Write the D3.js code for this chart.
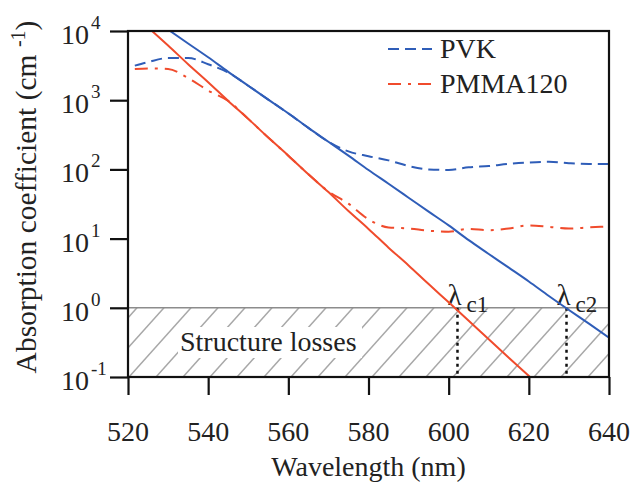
<!DOCTYPE html>
<html>
<head>
<meta charset="utf-8">
<script src="https://cdn.jsdelivr.net/npm/d3@7"></script>
<style>
  body { margin: 0; background: #fff; }
  svg { display: block; font-family: "Liberation Serif", "DejaVu Serif", serif; }
</style>
</head>
<body>
<div id="chart-area"></div>
<script>
// absorption edge (solid) and measured absorption (dashed) of the two polymers
var pvkEdgeNm  = [530.5,535,540,545,550,555,560,565,570,575,580,585,590,595,600,605,610,615,620,625,630,635,640];
var pvkEdgeAbs = [10000,6600,4170,2570,1620,1020,646,398,251,158,98,62,39,24.5,15.5,9.5,6.0,3.8,2.4,1.48,0.93,0.59,0.37];

var pmmaEdgeNm  = [526,530,535,540,545,550,555,560,565,570,575,580,585,590,595,600,605,610,615,620.3];
var pmmaEdgeAbs = [10000,6170,3310,1820,977,537,288,158,85,47,25,13.8,7.4,4.1,2.2,1.2,0.65,0.35,0.19,0.1];

var pvkNm  = [521.7,525,530,535,540,545,550,555,560,565,570,575,580,585,590,595,600,605,610,615,620,625,630,635,640];
var pvkAbs = [3160,3550,4070,4070,3310,2510,1620,1020,646,398,251,182,155,135,112,100,98,107,112,120,126,129,123,120,120];

var pmmaNm  = [521.7,525,530,535,540,545,550,555,560,565,570,575,580,585,590,595,600,605,610,615,620,625,630,635,640];
var pmmaAbs = [2820,2880,2820,2090,1380,977,537,288,158,85,48,32,19,14.5,14,13,12.6,13.8,13.2,14,15.5,14.8,14,14.5,15];

var xTicks = [520,540,560,580,600,620,640];
var yExponents = [4,3,2,1,0,-1];

var cutoffs = [{nm: 602.2, sub: "c1"}, {nm: 629.4, sub: "c2"}];
var structureLoss = 1; // cm-1, hatched region below this

var blue = "#2f5db8", red = "#f04b2c";

var plotLeft = 128, plotRight = 609, plotTop = 31, plotBottom = 377;

var svg = d3.select("#chart-area").append("svg")
    .attr("width", 635)
    .attr("height", 488);

var x = d3.scaleLinear().domain([520, 640]).range([plotLeft, plotRight]);
var y = d3.scaleLog().domain([0.1, 10000]).range([plotBottom, plotTop]);

svg.append("clipPath").attr("id", "plotclip")
  .append("rect")
    .attr("x", plotLeft).attr("y", plotTop)
    .attr("width", plotRight - plotLeft).attr("height", plotBottom - plotTop);

// hatched structure-loss band
var band = svg.append("g").attr("clip-path", "url(#plotclip)");
var hatchStarts = d3.range(plotLeft - 80, plotRight + 10, 27);
band.selectAll("line.hatch")
    .data(hatchStarts)
    .enter()
    .append("line")
      .attr("class", "hatch")
      .attr("x1", function(d){ return d; })
      .attr("y1", y(0.1))
      .attr("x2", function(d){ return d + 62; })
      .attr("y2", y(structureLoss))
      .attr("stroke", "#a8a8a8")
      .attr("stroke-width", 1.5);

svg.append("rect")
    .attr("x", 178).attr("y", 327)
    .attr("width", 184).attr("height", 31)
    .attr("fill", "#fff");

svg.append("text")
    .attr("x", 180).attr("y", 351)
    .attr("font-size", "28px")
    .attr("fill", "#222")
    .text("Structure losses");

svg.append("line")
    .attr("x1", plotLeft).attr("x2", plotRight)
    .attr("y1", y(structureLoss)).attr("y2", y(structureLoss))
    .attr("stroke", "#8c8c8c")
    .attr("stroke-width", 1.6);

// cutoff markers
svg.selectAll("line.cut")
    .data(cutoffs)
    .enter()
    .append("line")
      .attr("class", "cut")
      .attr("x1", function(d){ return x(d.nm); })
      .attr("x2", function(d){ return x(d.nm); })
      .attr("y1", y(structureLoss))
      .attr("y2", y(0.1))
      .attr("stroke", "#111")
      .attr("stroke-width", 2.5)
      .attr("stroke-dasharray", "3,4");

var cutLabels = svg.selectAll("text.cut")
    .data(cutoffs)
    .enter()
    .append("text")
      .attr("class", "cut")
      .attr("x", function(d){ return x(d.nm) - 10; })
      .attr("y", y(structureLoss) - 3)
      .attr("font-size", "29px")
      .attr("fill", "#222");
cutLabels.append("tspan").text("λ");
cutLabels.append("tspan")
    .attr("dx", 5).attr("dy", 7)
    .attr("font-size", "23px")
    .text(function(d){ return d.sub; });

// curves
var line = d3.line()
    .x(function(d){ return x(d[0]); })
    .y(function(d){ return y(d[1]); })
    .curve(d3.curveMonotoneX);

function pairs(xs, ys){
    return xs.map(function(v, i){ return [v, ys[i]]; });
}

var curves = svg.append("g").attr("clip-path", "url(#plotclip)");
var series = [
    {data: pairs(pvkNm, pvkAbs), color: blue, dash: "11,6"},
    {data: pairs(pmmaNm, pmmaAbs), color: red, dash: "13,7,3,7"},
    {data: pairs(pvkEdgeNm, pvkEdgeAbs), color: blue, dash: null},
    {data: pairs(pmmaEdgeNm, pmmaEdgeAbs), color: red, dash: null}
];
curves.selectAll("path")
    .data(series)
    .enter()
    .append("path")
      .attr("d", function(d){ return line(d.data); })
      .attr("fill", "none")
      .attr("stroke", function(d){ return d.color; })
      .attr("stroke-width", 2)
      .attr("stroke-dasharray", function(d){ return d.dash; });

// frame
svg.append("rect")
    .attr("x", plotLeft).attr("y", plotTop)
    .attr("width", plotRight - plotLeft).attr("height", plotBottom - plotTop)
    .attr("fill", "none")
    .attr("stroke", "#111")
    .attr("stroke-width", 2.2);

// axes
var xAxis = d3.axisBottom(x).tickValues(xTicks).tickSize(18).tickFormat("");
svg.append("g")
    .attr("transform", "translate(0," + plotBottom + ")")
    .call(xAxis)
    .call(function(g){
        g.select(".domain").remove();
        g.selectAll("line").attr("stroke", "#111").attr("stroke-width", 2.2);
    });

svg.selectAll("text.xtick")
    .data(xTicks)
    .enter()
    .append("text")
      .attr("class", "xtick")
      .attr("x", function(d){ return x(d); })
      .attr("y", 441)
      .attr("text-anchor", "middle")
      .attr("font-size", "28px")
      .attr("fill", "#222")
      .text(function(d){ return d; });

var yAxis = d3.axisLeft(y).tickValues(yExponents.map(function(e){ return Math.pow(10, e); }))
    .tickSize(18).tickFormat("");
svg.append("g")
    .attr("transform", "translate(" + plotLeft + ",0)")
    .call(yAxis)
    .call(function(g){
        g.select(".domain").remove();
        g.selectAll("line").attr("stroke", "#111").attr("stroke-width", 2.2);
    });

var yLabels = svg.selectAll("text.ytick")
    .data(yExponents)
    .enter()
    .append("text")
      .attr("class", "ytick")
      .attr("x", 61)
      .attr("y", function(d){ return y(Math.pow(10, d)) + 13; })
      .attr("font-size", "28px")
      .attr("fill", "#222");
yLabels.append("tspan").text("10");
yLabels.append("tspan")
    .attr("dx", 2).attr("dy", -15)
    .attr("font-size", "19px")
    .text(function(d){ return d < 0 ? "-" + (-d) : d; });

// axis titles
svg.append("text")
    .attr("x", (plotLeft + plotRight) / 2)
    .attr("y", 476)
    .attr("text-anchor", "middle")
    .attr("font-size", "28px")
    .attr("fill", "#222")
    .text("Wavelength (nm)");

var yTitle = svg.append("text")
    .attr("transform", "translate(36,197) rotate(-90)")
    .attr("text-anchor", "middle")
    .attr("font-size", "29.5px")
    .attr("fill", "#222");
yTitle.append("tspan").text("Absorption coefficient (cm ");
yTitle.append("tspan").attr("dy", -11).attr("font-size", "20px").text("-1");
yTitle.append("tspan").attr("dy", 11).text(")");

// legend
var legendItems = [
    {name: "PVK", color: blue, dash: "11,6"},
    {name: "PMMA120", color: red, dash: "13,7,3,7"}
];
var legend = svg.selectAll("g.legend")
    .data(legendItems)
    .enter()
    .append("g")
      .attr("class", "legend")
      .attr("transform", function(d, i){ return "translate(388," + (49 + i * 35) + ")"; });
legend.append("line")
    .attr("x1", 0).attr("x2", 44)
    .attr("stroke", function(d){ return d.color; })
    .attr("stroke-width", 2)
    .attr("stroke-dasharray", function(d){ return d.dash; });
legend.append("text")
    .attr("x", 52).attr("y", 9)
    .attr("font-size", "28px")
    .attr("fill", "#222")
    .text(function(d){ return d.name; });
</script>
</body>
</html>
